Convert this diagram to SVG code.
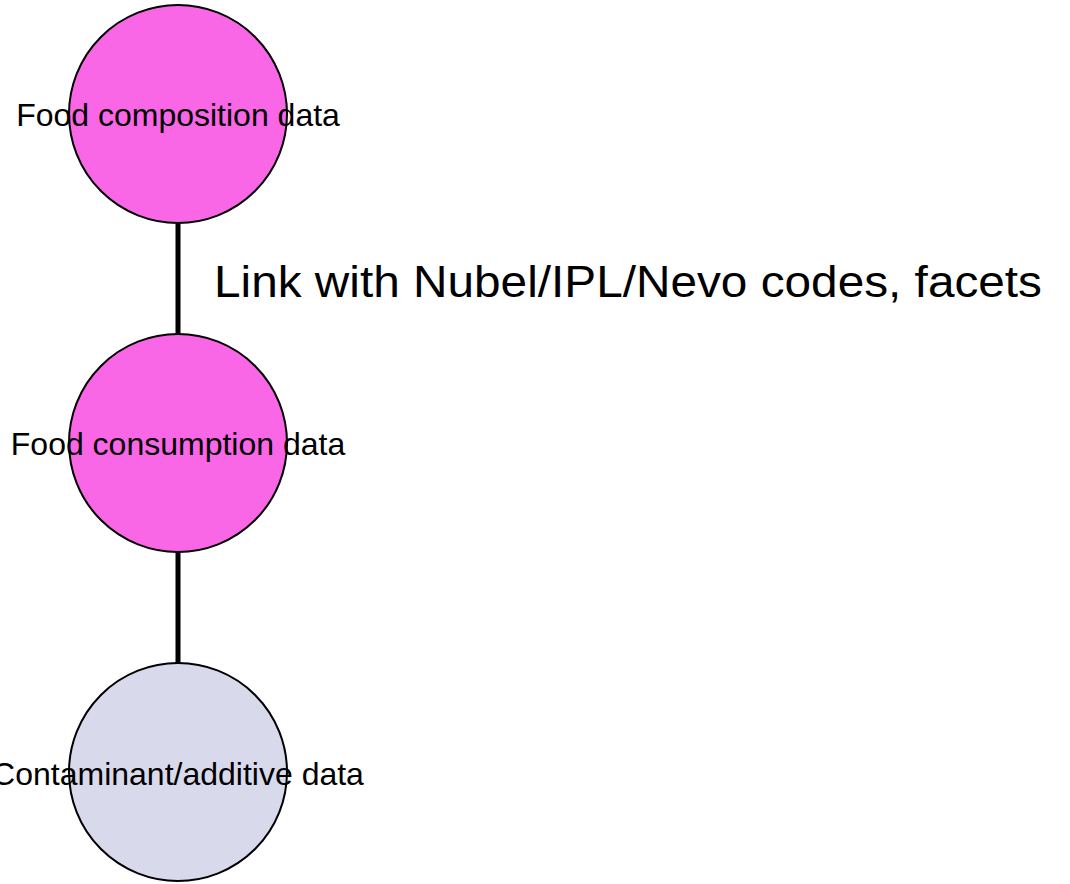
<svg xmlns="http://www.w3.org/2000/svg" width="1070" height="884" viewBox="0 0 1070 884">
  <style>
    .node { stroke: #000000; stroke-width: 2; }
    .pink { fill: #F967E6; }
    .lav { fill: #D9D9EC; }
    .lbl { font-family: "Liberation Sans", Arial, sans-serif; font-size: 32px; fill: #000000; text-anchor: middle; }
    .edge { stroke: #000000; stroke-width: 5; fill: none; }
    .elbl { font-family: "Liberation Sans", Arial, sans-serif; font-size: 45px; fill: #000000; }
  </style>
  <rect width="1070" height="884" fill="#FFFFFF"/>
  <g id="connectors">
    <line class="edge" x1="178" y1="224" x2="178" y2="334"/>
    <line class="edge" x1="178" y1="552" x2="178" y2="663"/>
    <text class="elbl" x="214" y="297" textLength="828" lengthAdjust="spacingAndGlyphs">Link with Nubel/IPL/Nevo codes, facets</text>
  </g>
  <g id="node-composition">
    <circle class="node pink" cx="178" cy="114" r="109"/>
    <text class="lbl" x="178" y="126">Food composition data</text>
  </g>
  <g id="node-consumption">
    <circle class="node pink" cx="178" cy="443" r="109"/>
    <text class="lbl" x="178" y="455">Food consumption data</text>
  </g>
  <g id="node-contaminant">
    <circle class="node lav" cx="178" cy="772" r="109"/>
    <text class="lbl" x="178" y="785">Contaminant/additive data</text>
  </g>
</svg>
